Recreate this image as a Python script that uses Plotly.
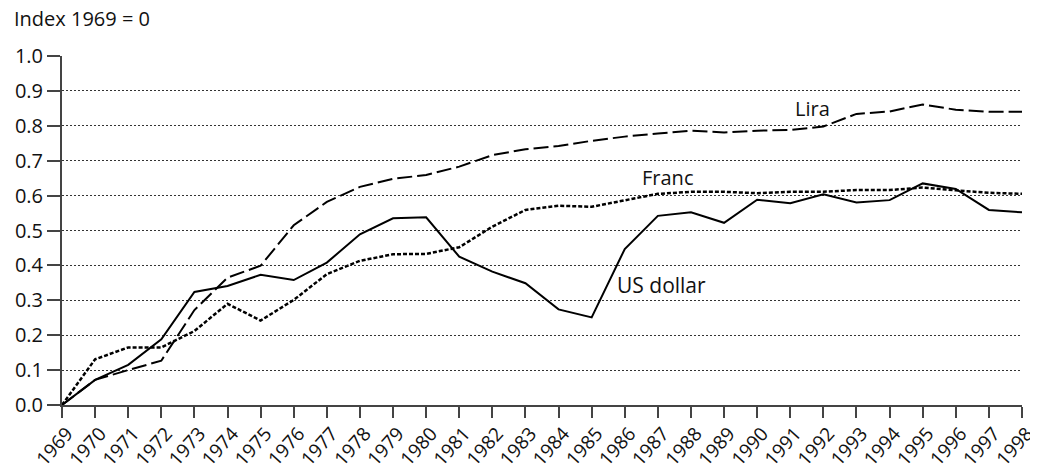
import plotly.graph_objects as go

years = list(range(1969, 1999))
us_dollar = [0.0, 0.072, 0.115, 0.188, 0.324, 0.341, 0.373, 0.358, 0.408, 0.489,
             0.535, 0.538, 0.425, 0.382, 0.349, 0.274, 0.251, 0.447, 0.542, 0.552,
             0.522, 0.588, 0.578, 0.604, 0.580, 0.587, 0.635, 0.619, 0.559, 0.552]
lira = [0.0, 0.072, 0.100, 0.127, 0.272, 0.365, 0.399, 0.515, 0.582, 0.625,
        0.648, 0.659, 0.683, 0.716, 0.733, 0.742, 0.757, 0.769, 0.778, 0.786,
        0.781, 0.786, 0.788, 0.798, 0.834, 0.841, 0.861, 0.846, 0.840, 0.840]
franc = [0.0, 0.131, 0.165, 0.165, 0.212, 0.290, 0.242, 0.301, 0.375, 0.413,
         0.432, 0.433, 0.452, 0.511, 0.559, 0.571, 0.568, 0.587, 0.605, 0.611,
         0.611, 0.607, 0.611, 0.611, 0.616, 0.616, 0.623, 0.615, 0.608, 0.605]
y_ticks = [0.0, 0.1, 0.2, 0.3, 0.4, 0.5, 0.6, 0.7, 0.8, 0.9, 1.0]

FONT = "Open Sans"

fig = go.Figure()
fig.add_trace(go.Scatter(x=years, y=franc, mode="lines", name="Franc",
                         line=dict(color="black", width=2.5, dash="4px,2px")))
fig.add_trace(go.Scatter(x=years, y=lira, mode="lines", name="Lira",
                         line=dict(color="black", width=2, dash="15px,5px")))
fig.add_trace(go.Scatter(x=years, y=us_dollar, mode="lines", name="US dollar",
                         line=dict(color="black", width=2)))

fig.add_annotation(x=1991.66, y=0.851, text="Lira", showarrow=False,
                   font=dict(size=20, color="#111"), xanchor="center", yanchor="middle")
fig.add_annotation(x=1987.3, y=0.653, text="Franc", showarrow=False,
                   font=dict(size=20, color="#111"), xanchor="center", yanchor="middle")
fig.add_annotation(x=1987.1, y=0.344, text="US dollar", showarrow=False,
                   font=dict(size=21, color="#111"), xanchor="center", yanchor="middle")
fig.add_annotation(xref="paper", yref="paper", x=0, xshift=-50, y=1.0, yshift=38,
                   text="Index 1969 = 0", showarrow=False, xanchor="left", yanchor="middle",
                   font=dict(size=20, color="#111"))

fig.update_layout(
    width=1030, height=464,
    margin=dict(l=54, r=16, t=48, b=67),
    paper_bgcolor="white", plot_bgcolor="white",
    showlegend=False,
    font=dict(family=FONT, size=18, color="#111"),
)
fig.update_xaxes(
    range=[1969, 1998], tickmode="array", tickvals=years, ticktext=[str(y) for y in years],
    tickangle=-48, ticks="outside", ticklen=11, tickcolor="#444", tickwidth=1.5,
    showline=True, linecolor="#444", linewidth=2, showgrid=False, zeroline=False,
    tickfont=dict(size=19), automargin=False, ticklabeloverflow="allow",
    ticklabelshift=5, ticklabelstandoff=-3,
)
fig.update_yaxes(
    range=[0, 1.0], tickmode="array", tickvals=y_ticks,
    ticktext=[f"{v:.1f}" for v in y_ticks],
    ticks="outside", ticklen=13, tickcolor="#444", tickwidth=1.5,
    showline=True, linecolor="#444", linewidth=2,
    showgrid=True, gridcolor="#333", gridwidth=1, griddash="2px,2px",
    zeroline=False, tickfont=dict(size=20), automargin=False,
)

fig.write_html("out.html")
